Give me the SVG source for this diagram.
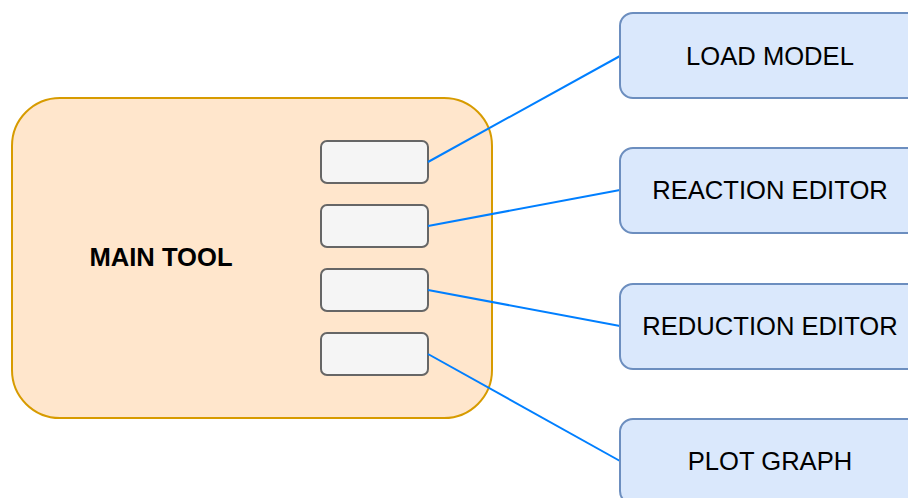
<svg xmlns="http://www.w3.org/2000/svg" width="908" height="498" viewBox="0 0 908 498">
  <style>
    .main { fill: #ffe6cc; stroke: #d79b00; stroke-width: 2; }
    .slot { fill: #f5f5f5; stroke: #666666; stroke-width: 2; }
    .panel { fill: #dae8fc; stroke: #6c8ebf; stroke-width: 2; }
    .wire { stroke: #007fff; stroke-width: 2; fill: none; }
    .label { font-family: "Liberation Sans", Arial, sans-serif; font-size: 25.6px; fill: #000000; text-anchor: middle; }
    .bold { font-weight: bold; }
  </style>
  <rect width="908" height="498" fill="#ffffff"/>

  <g id="main-tool">
    <rect class="main" x="12" y="98" width="480" height="320" rx="48" ry="48"/>
    <text class="label bold" x="161" y="266">MAIN TOOL</text>
  </g>

  <g id="slot-1"><rect class="slot" x="321" y="141" width="107" height="42" rx="6" ry="6"/></g>
  <g id="slot-2"><rect class="slot" x="321" y="205" width="107" height="42" rx="6" ry="6"/></g>
  <g id="slot-3"><rect class="slot" x="321" y="269" width="107" height="42" rx="6" ry="6"/></g>
  <g id="slot-4"><rect class="slot" x="321" y="333" width="107" height="42" rx="6" ry="6"/></g>

  <g id="connectors">
    <line class="wire" x1="428" y1="162" x2="620" y2="56"/>
    <line class="wire" x1="428" y1="226" x2="620" y2="190"/>
    <line class="wire" x1="428" y1="290" x2="620" y2="326"/>
    <line class="wire" x1="428" y1="354" x2="620" y2="461"/>
  </g>

  <g id="load-model">
    <rect class="panel" x="620" y="13" width="300" height="85" rx="13" ry="13"/>
    <text class="label" x="770" y="65">LOAD MODEL</text>
  </g>
  <g id="reaction-editor">
    <rect class="panel" x="620" y="148" width="300" height="85" rx="13" ry="13"/>
    <text class="label" x="770" y="199">REACTION EDITOR</text>
  </g>
  <g id="reduction-editor">
    <rect class="panel" x="620" y="284" width="300" height="85" rx="13" ry="13"/>
    <text class="label" x="770" y="335">REDUCTION EDITOR</text>
  </g>
  <g id="plot-graph">
    <rect class="panel" x="620" y="419" width="300" height="85" rx="13" ry="13"/>
    <text class="label" x="770" y="470">PLOT GRAPH</text>
  </g>
</svg>
